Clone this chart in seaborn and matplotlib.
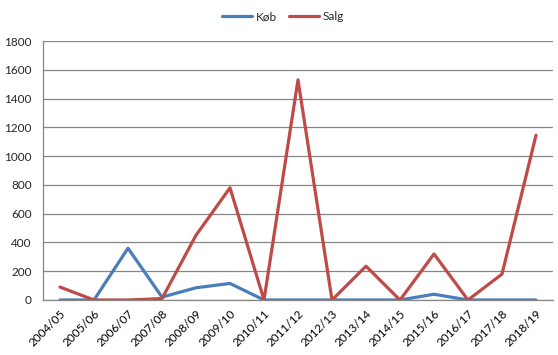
import seaborn as sns
import matplotlib.pyplot as plt
import pandas as pd
from matplotlib.ticker import FixedLocator, MultipleLocator

saesoner = ['2004/05', '2005/06', '2006/07', '2007/08', '2008/09', '2009/10', '2010/11',
            '2011/12', '2012/13', '2013/14', '2014/15', '2015/16', '2016/17', '2017/18', '2018/19']
koeb = [0, 0, 360, 20, 85, 115, 0, 0, 0, 0, 0, 40, 0, 0, 0]
salg = [90, 0, 0, 10, 450, 780, 0, 1530, 0, 235, 0, 320, 0, 180, 1145]

df = pd.DataFrame({
    'saeson': saesoner * 2,
    'vaerdi': koeb + salg,
    'serie': ['Køb'] * len(koeb) + ['Salg'] * len(salg),
})
df['pos'] = list(range(len(saesoner))) * 2

sns.set_style('white')
plt.rcParams['font.family'] = ['Lato', 'DejaVu Sans']

fig = plt.figure(figsize=(5.58, 3.55), dpi=100)
ax = fig.add_axes([43 / 558, 55 / 355, 510 / 558, 259 / 355])

sns.lineplot(data=df, x='pos', y='vaerdi', hue='serie',
             palette={'Køb': '#4A7EBB', 'Salg': '#BE4B48'},
             linewidth=2.3, ax=ax, legend=True)

# akser
ax.set_xlim(-0.5, len(saesoner) - 0.5)
ax.set_ylim(0, 1800)
ax.yaxis.set_major_locator(MultipleLocator(200))
ax.grid(axis='y', color='#868686', linewidth=0.9)
ax.set_axisbelow(True)
ax.set_xlabel('')
ax.set_ylabel('')

ax.xaxis.set_major_locator(FixedLocator(range(len(saesoner))))
ax.set_xticklabels(saesoner, rotation=45, ha='right', rotation_mode='anchor')
ax.xaxis.set_minor_locator(FixedLocator([i - 0.5 for i in range(len(saesoner) + 1)]))
ax.tick_params(axis='x', which='major', length=0, pad=6, labelsize=8.5, colors='black')
ax.tick_params(axis='x', which='minor', length=5, width=0.9, color='#868686', direction='out')
ax.tick_params(axis='y', length=5, width=0.9, color='#868686', direction='out', labelsize=8.5, pad=3)

for s in ['top', 'right']:
    ax.spines[s].set_visible(False)
for s in ['left', 'bottom']:
    ax.spines[s].set_color('#868686')
    ax.spines[s].set_linewidth(0.9)

# legende øverst
h, l = ax.get_legend_handles_labels()
ax.legend(h, l, loc='upper center', bbox_to_anchor=(0.5 - 15 / 510, 1.155), ncol=2,
          frameon=False, fontsize=8.5, handlelength=2.6, columnspacing=1.0, handletextpad=0.3)

fig.savefig('out.png', dpi=100)
